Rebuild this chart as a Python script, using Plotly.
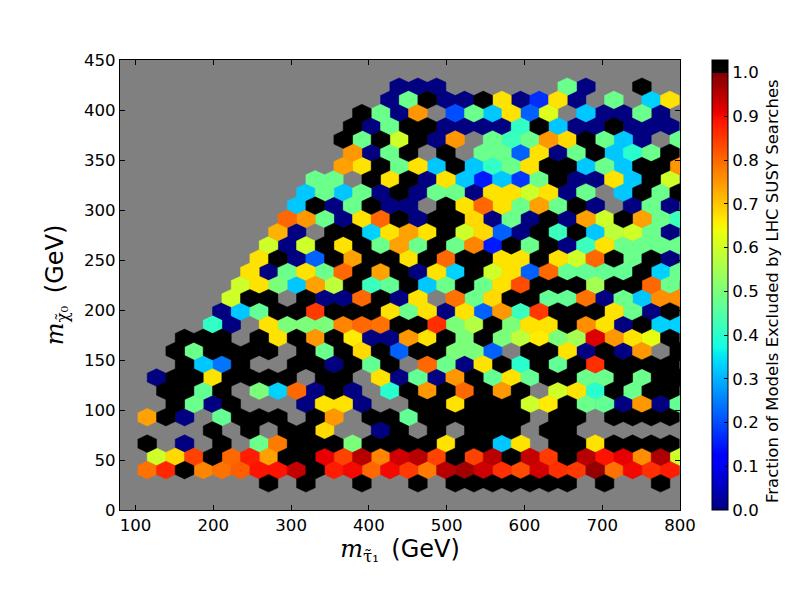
import plotly.graph_objects as go

K = 1.0   # all models excluded (black)
N = 0.0   # none excluded (navy)
_ = None  # empty bin

stau_start = 103.0    # GeV, centre of first bin of even rows
stau_step = 24.0      # GeV between neighbouring bins in a row
lsp_start = 26.7      # GeV, centre of the lowest row
lsp_step = 13.22      # GeV between rows

row_00 = [_,_,_,_,_,_,_,K,_,K,_,_,K,_,_,K,_,K,K,K,K,K,K,K,_,K,_,_,K,_]
row_01 = [.79,.87,K,.77,.79,.81,.89,.89,.94,K,.88,.9,.8,.9,.85,.78,.95,.97,.93,.86,.83,.93,.86,.85,.98,.79,.9,.86,.88]
row_02 = [_,.6,.68,.84,K,.8,.88,.74,K,K,.91,.84,.95,.77,.93,.95,.84,K,.84,.95,K,.94,.85,K,.95,.89,.91,.76,.96,.6]
row_03 = [K,_,N,_,K,_,.48,.78,K,K,K,.5,K,K,K,K,.67,K,K,.32,.67,_,K,K,.67,K,K,K,K]
row_04 = [_,_,_,_,K,_,K,_,K,K,.68,_,_,N,K,_,K,_,K,K,K,_,K,K,_,_,_,_,_,_]
row_05 = [.74,K,N,_,.47,K,K,K,_,K,.75,_,K,K,.47,K,K,K,K,K,K,_,K,K,_,K,K,K,K]
row_06 = [_,_,K,.48,N,K,_,_,_,N,.67,.67,N,_,_,K,K,.67,K,K,K,.6,.66,K,.48,.47,N,.75,N,.47]
row_07 = [_,K,K,.47,K,_,.5,.33,.8,N,K,N,_,.4,K,.75,K,.8,K,.75,K,_,.6,.67,.4,K,.48,K,K]
row_08 = [_,N,K,K,.67,K,K,K,K,_,K,K,_,.67,N,.47,N,.75,K,.47,.67,.47,K,K,.48,.48,K,.48,K,K]
row_09 = [_,_,K,.32,.24,K,_,_,K,K,N,K,.47,K,_,.8,.48,N,.67,K,.4,K,.47,K,.86,K,K,K,K]
row_10 = [_,_,K,.48,K,K,K,K,_,K,.48,K,.68,K,.22,K,K,.5,.5,.22,_,K,K,.67,N,K,N,.75,_,K]
row_11 = [_,_,K,K,K,_,K,.67,K,.75,K,.66,N,N,.75,.67,K,.5,K,.5,.58,.66,.5,.55,.92,.75,.67,.63,K]
row_12 = [_,_,_,_,.41,N,_,.67,.5,.5,.5,.77,.8,.79,K,K,.86,.5,.57,K,.5,.67,.67,K,.76,.67,N,K,.33,.33]
row_13 = [_,_,_,_,N,.32,.47,K,K,.85,K,K,K,.67,.48,.67,N,.67,.22,.75,.42,.85,K,K,K,.67,.48,N,K]
row_14 = [_,_,_,_,_,.6,K,K,_,K,N,N,.8,K,N,.67,_,.79,.48,.68,K,K,.47,.47,.79,N,.48,.32,.76,.76]
row_15 = [_,_,_,_,_,.6,.67,.5,.32,.74,.58,K,.42,.47,K,.32,.48,K,.48,.67,.83,K,K,K,.55,K,K,.8,.48]
row_16 = [_,_,_,_,_,_,.67,N,.48,.67,.48,.8,K,.74,K,N,.67,.33,K,.6,.67,.22,.8,.47,.47,.47,.47,K,.33,.48]
row_17 = [_,_,_,_,_,_,.67,K,N,.22,K,.74,K,K,.67,K,.8,K,K,.67,.67,K,.67,.6,.8,K,.48,K,N]
row_18 = [_,_,_,_,_,_,_,.6,N,.6,K,.67,K,.48,.74,.48,K,.48,.77,.15,K,.48,K,N,.42,.67,.48,.48,.48,.48]
row_19 = [_,_,_,_,_,_,_,.72,N,_,K,K,.33,.67,.74,.67,K,.6,.68,.22,N,K,.42,K,.32,.58,.6,.48,N]
row_20 = [_,_,_,_,_,_,_,_,.8,.75,.48,N,.67,.8,K,N,K,K,.68,N,.48,N,K,N,.74,.6,K,.74,.48,.42]
row_21 = [_,_,_,_,_,_,_,_,.32,K,N,.48,K,N,N,_,K,.67,.8,.67,.48,.74,.48,K,N,_,N,.48,N]
row_22 = [_,_,_,_,_,_,_,_,_,.32,.48,.32,.48,N,K,N,.48,.48,N,.67,.67,.6,.67,N,.48,_,.32,K,.48,K]
row_23 = [_,_,_,_,_,_,_,_,_,.48,.48,_,K,.67,K,N,.67,.32,.15,.32,.18,.48,K,N,N,.67,.32,K,.6]
row_24 = [_,_,_,_,_,_,_,_,_,_,_,.74,.67,K,.48,.67,.32,K,.32,.41,.48,.67,K,K,.32,.48,.32,K,K,.75]
row_25 = [_,_,_,_,_,_,_,_,_,_,_,.75,N,.48,K,_,K,_,.48,.48,.22,.67,N,.48,K,.32,.4,.48,K]
row_26 = [_,_,_,_,_,_,_,_,_,_,_,K,.48,K,.6,K,N,.75,_,.48,.42,.48,.75,.68,K,.48,.32,N,_,.48]
row_27 = [_,_,_,_,_,_,_,_,_,_,_,K,N,.48,K,K,N,N,N,N,.41,K,.32,N,N,K,N,N,N]
row_28 = [_,_,_,_,_,_,_,_,_,_,_,_,K,.48,N,.75,_,.2,.48,.32,.67,.22,.62,_,.32,N,N,.48,N,_]
row_29 = [_,_,_,_,_,_,_,_,_,_,_,_,_,N,.48,K,N,N,K,.67,N,.17,.67,N,_,.48,_,.33,.67]
row_30 = [_,_,_,_,_,_,_,_,_,_,_,_,_,_,N,N,N,_,_,_,_,_,_,.48,N,_,_,K,_,_]

rows = [row_00, row_01, row_02, row_03, row_04, row_05, row_06, row_07,
        row_08, row_09, row_10, row_11, row_12, row_13, row_14, row_15,
        row_16, row_17, row_18, row_19, row_20, row_21, row_22, row_23,
        row_24, row_25, row_26, row_27, row_28, row_29, row_30]

x_ticks = [100, 200, 300, 400, 500, 600, 700, 800]
y_ticks = [0, 50, 100, 150, 200, 250, 300, 350, 400, 450]
bar_ticks = [0.0, 0.1, 0.2, 0.3, 0.4, 0.5, 0.6, 0.7, 0.8, 0.9, 1.0]
bar_top = 1.029   # the bar runs a little past 1.0, into the black "over" colour

SERIF = "font-family:'DejaVu Serif'"
x_title = f'<span style="{SERIF}"><i>m</i><sub>τ̃₁</sub></span>\u2009 (GeV)'
y_title = f'<span style="{SERIF}"><i>m</i><sub>χ̃₀</sub></span>\u2009 (GeV)'
bar_title = 'Fraction of Models Excluded by LHC SUSY Searches'

FONT = 'DejaVu Sans'


def interp(pts, v):
    for (a, fa), (b, fb) in zip(pts, pts[1:]):
        if v <= b:
            return fa + (fb - fa) * (v - a) / (b - a)
    return pts[-1][1]


R_PTS = [(0, 0), (.35, 0), (.66, 1), (.89, 1), (1, .5)]
G_PTS = [(0, 0), (.125, 0), (.375, 1), (.64, 1), (.91, 0), (1, 0)]
B_PTS = [(0, .5), (.11, 1), (.34, 1), (.65, 0), (1, 0)]


def jet(v):
    if v >= 1.0:
        return 'rgb(0,0,0)'
    return 'rgb(%d,%d,%d)' % tuple(round(255 * interp(p, v)) for p in (R_PTS, G_PTS, B_PTS))


stops = sorted({0, .11, .125, .34, .35, .375, .64, .65, .66, .89, .91, .999})
colorscale = [[s / bar_top, jet(s)] for s in stops]
colorscale += [[0.9717, 'rgb(128,0,0)'], [0.9717, 'rgb(0,0,0)'], [1, 'rgb(0,0,0)']]

cx, cy, cv = [], [], []
for k, row in enumerate(rows):
    for j, v in enumerate(row):
        if v is None:
            continue
        cx.append(stau_start + stau_step * j + (stau_step / 2 if k % 2 else 0))
        cy.append(lsp_start + lsp_step * k)
        cv.append(v)

fig = go.Figure()
fig.add_trace(go.Scatter(
    x=cx, y=cy, mode='markers', hoverinfo='skip', showlegend=False,
    marker=dict(
        size=1, color=cv, cmin=0, cmax=bar_top, colorscale=colorscale, showscale=True,
        colorbar=dict(
            x=(712 - 120) / 560, xanchor='left', xpad=0, y=0.5, yanchor='middle', ypad=0,
            lenmode='pixels', len=450, thicknessmode='pixels', thickness=16,
            outlinecolor='black', outlinewidth=1,
            tickmode='array', tickvals=bar_ticks, ticktext=['%.1f' % t for t in bar_ticks],
            ticks='inside', ticklen=4, tickcolor='black', tickwidth=1,
            tickfont=dict(family=FONT, size=16.6, color='black'),
        ),
    ),
))

half_w = stau_step / 2
top = lsp_step * 2 / 3
side = lsp_step / 3
by_value = {}
for x, y, v in zip(cx, cy, cv):
    by_value.setdefault(v, []).append((x, y))
for v, centres in sorted(by_value.items()):
    px, py = [], []
    for x, y in centres:
        px += [x, x + half_w, x + half_w, x, x - half_w, x - half_w, x, None]
        py += [y + top, y + side, y - side, y - top, y - side, y + side, y + top, None]
    c = jet(v)
    fig.add_trace(go.Scatter(
        x=px, y=py, mode='lines', fill='toself', fillcolor=c,
        line=dict(color=c, width=0.5), hoverinfo='skip', showlegend=False,
    ))

axis = dict(
    showgrid=False, zeroline=False, showline=True, linecolor='black', linewidth=1,
    mirror='ticks', ticks='inside', ticklen=5, tickcolor='black', tickwidth=1,
    tickfont=dict(family=FONT, size=16.6, color='black'),
)
fig.update_xaxes(range=[80, 800], tickvals=x_ticks, **axis,
                 title=dict(text=x_title, standoff=5, font=dict(family=FONT, size=24, color='black')))
fig.update_yaxes(range=[0, 450], tickvals=y_ticks, **axis,
                 title=dict(text=y_title, standoff=13, font=dict(family=FONT, size=24, color='black')))
fig.update_layout(
    width=800, height=600, autosize=False,
    margin=dict(l=120, r=120, t=60, b=90, pad=0),
    plot_bgcolor='#808080', paper_bgcolor='white', showlegend=False,
    annotations=[dict(
        text=bar_title, textangle=-90, showarrow=False,
        xref='paper', yref='paper', xanchor='center', yanchor='middle',
        x=(772 - 120) / 560, y=(510 - 291) / 450,
        font=dict(family=FONT, size=16.5, color='black'),
    )],
)
fig.write_html('out.html', config={'displayModeBar': False},
               post_script="document.body.style.margin='0';")
